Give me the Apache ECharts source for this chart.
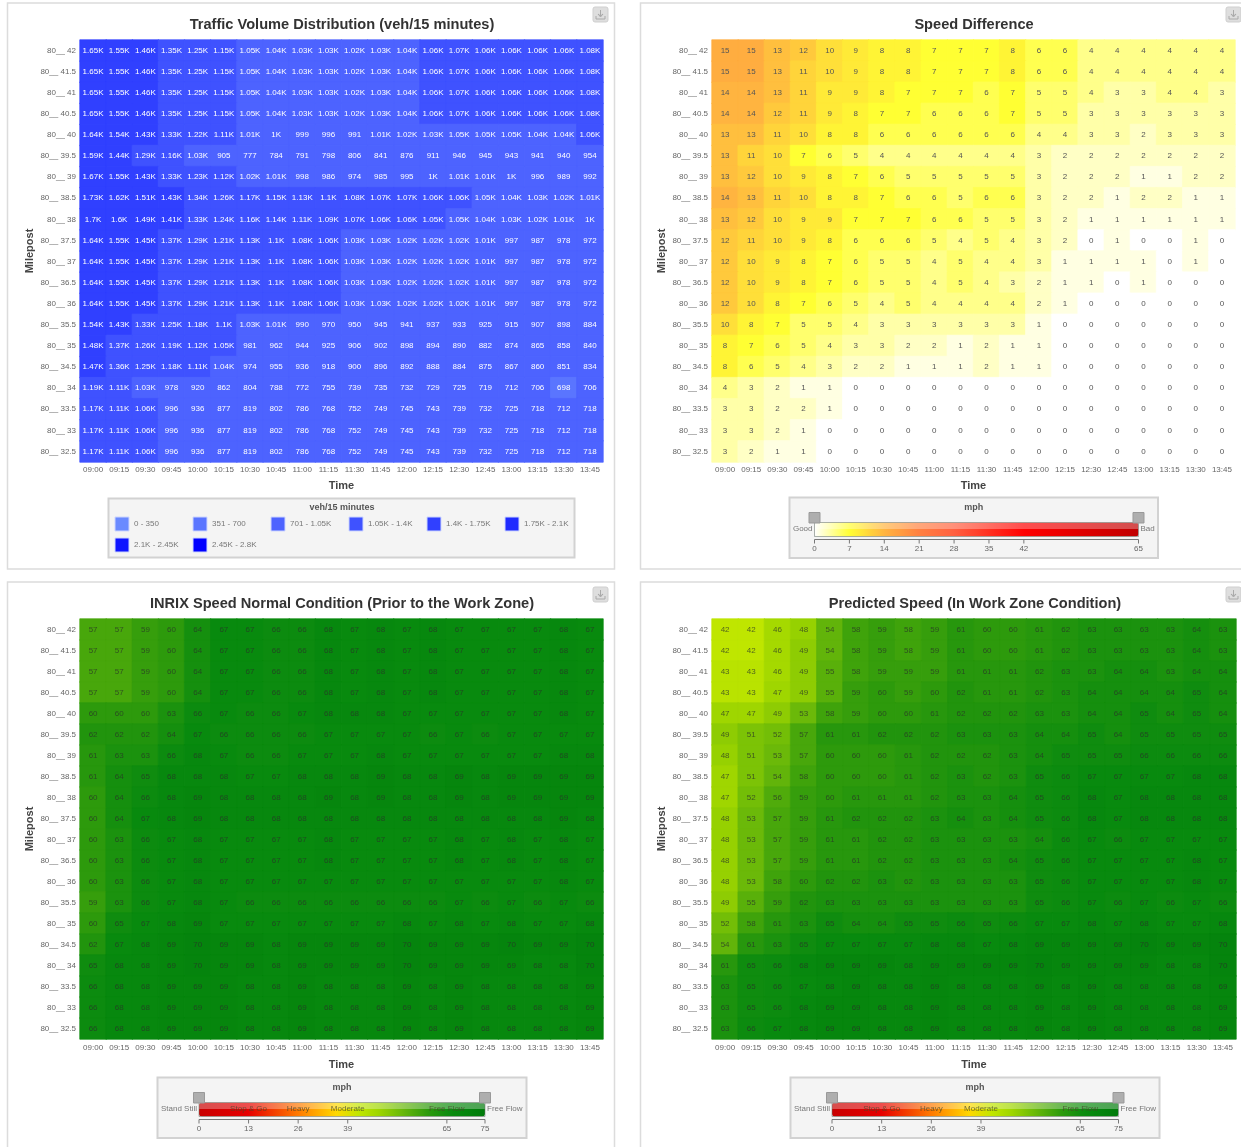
<!DOCTYPE html>
<html>
<head>
<meta charset="utf-8">
<style>html,body{margin:0;padding:0;background:#fff}#c{width:1241px;height:1147px}</style>
<script src="https://cdn.jsdelivr.net/npm/echarts@6/dist/echarts.min.js"></script>
</head>
<body>
<div id="c"></div>
<script>
var times = ['09:00','09:15','09:30','09:45','10:00','10:15','10:30','10:45','11:00','11:15','11:30','11:45','12:00','12:15','12:30','12:45','13:00','13:15','13:30','13:45'];
var mileposts = ['80__ 42','80__ 41.5','80__ 41','80__ 40.5','80__ 40','80__ 39.5','80__ 39','80__ 38.5','80__ 38','80__ 37.5','80__ 37','80__ 36.5','80__ 36','80__ 35.5','80__ 35','80__ 34.5','80__ 34','80__ 33.5','80__ 33','80__ 32.5'];

var volume = [
[1650,1550,1460,1350,1250,1150,1050,1040,1030,1030,1020,1030,1040,1060,1070,1060,1060,1060,1060,1080],
[1650,1550,1460,1350,1250,1150,1050,1040,1030,1030,1020,1030,1040,1060,1070,1060,1060,1060,1060,1080],
[1650,1550,1460,1350,1250,1150,1050,1040,1030,1030,1020,1030,1040,1060,1070,1060,1060,1060,1060,1080],
[1650,1550,1460,1350,1250,1150,1050,1040,1030,1030,1020,1030,1040,1060,1070,1060,1060,1060,1060,1080],
[1640,1540,1430,1330,1220,1110,1010,1000,999,996,991,1010,1020,1030,1050,1050,1050,1040,1040,1060],
[1590,1440,1290,1160,1030,905,777,784,791,798,806,841,876,911,946,945,943,941,940,954],
[1670,1550,1430,1330,1230,1120,1020,1010,998,986,974,985,995,1000,1010,1010,1000,996,989,992],
[1730,1620,1510,1430,1340,1260,1170,1150,1130,1100,1080,1070,1070,1060,1060,1050,1040,1030,1020,1010],
[1700,1600,1490,1410,1330,1240,1160,1140,1110,1090,1070,1060,1060,1052,1050,1040,1030,1020,1010,1000],
[1640,1550,1450,1370,1290,1210,1130,1100,1080,1060,1030,1030,1020,1020,1020,1010,997,987,978,972],
[1640,1550,1450,1370,1290,1210,1130,1100,1080,1060,1030,1030,1020,1020,1020,1010,997,987,978,972],
[1640,1550,1450,1370,1290,1210,1130,1100,1080,1060,1030,1030,1020,1020,1020,1010,997,987,978,972],
[1640,1550,1450,1370,1290,1210,1130,1100,1080,1060,1030,1030,1020,1020,1020,1010,997,987,978,972],
[1540,1430,1330,1250,1180,1100,1030,1010,990,970,950,945,941,937,933,925,915,907,898,884],
[1480,1370,1260,1190,1120,1052,981,962,944,925,906,902,898,894,890,882,874,865,858,840],
[1470,1360,1250,1180,1110,1040,974,955,936,918,900,896,892,888,884,875,867,860,851,834],
[1190,1110,1030,978,920,862,804,788,772,755,739,735,732,729,725,719,712,706,698,706],
[1170,1110,1060,996,936,877,819,802,786,768,752,749,745,743,739,732,725,718,712,718],
[1170,1110,1060,996,936,877,819,802,786,768,752,749,745,743,739,732,725,718,712,718],
[1170,1110,1060,996,936,877,819,802,786,768,752,749,745,743,739,732,725,718,712,718]
];
var speedDiff = [
[15,15,13,12,10,9,8,8,7,7,7,8,6,6,4,4,4,4,4,4],
[15,15,13,11,10,9,8,8,7,7,7,8,6,6,4,4,4,4,4,4],
[14,14,13,11,9,9,8,7,7,7,6,7,5,5,4,3,3,4,4,3],
[14,14,12,11,9,8,7,7,6,6,6,7,5,5,3,3,3,3,3,3],
[13,13,11,10,8,8,6,6,6,6,6,6,4,4,3,3,2,3,3,3],
[13,11,10,7,6,5,4,4,4,4,4,4,3,2,2,2,2,2,2,2],
[13,12,10,9,8,7,6,5,5,5,5,5,3,2,2,2,1,1,2,2],
[14,13,11,10,8,8,7,6,6,5,6,6,3,2,2,1,2,2,1,1],
[13,12,10,9,9,7,7,7,6,6,5,5,3,2,1,1,1,1,1,1],
[12,11,10,9,8,6,6,6,5,4,5,4,3,2,0,1,0,0,1,0],
[12,10,9,8,7,6,5,5,4,5,4,4,3,1,1,1,1,0,1,0],
[12,10,9,8,7,6,5,5,4,5,4,3,2,1,1,0,1,0,0,0],
[12,10,8,7,6,5,4,5,4,4,4,4,2,1,0,0,0,0,0,0],
[10,8,7,5,5,4,3,3,3,3,3,3,1,0,0,0,0,0,0,0],
[8,7,6,5,4,3,3,2,2,1,2,1,1,0,0,0,0,0,0,0],
[8,6,5,4,3,2,2,1,1,1,2,1,1,0,0,0,0,0,0,0],
[4,3,2,1,1,0,0,0,0,0,0,0,0,0,0,0,0,0,0,0],
[3,3,2,2,1,0,0,0,0,0,0,0,0,0,0,0,0,0,0,0],
[3,3,2,1,0,0,0,0,0,0,0,0,0,0,0,0,0,0,0,0],
[3,2,1,1,0,0,0,0,0,0,0,0,0,0,0,0,0,0,0,0]
];
var normalSpeed = [
[57,57,59,60,64,67,67,66,66,68,67,68,67,68,67,67,67,67,68,67],
[57,57,59,60,64,67,67,66,66,68,67,68,67,68,67,67,67,67,68,67],
[57,57,59,60,64,67,67,66,66,68,67,68,67,68,67,67,67,67,68,67],
[57,57,59,60,64,67,67,66,66,68,67,68,67,68,67,67,67,67,68,67],
[60,60,60,63,66,67,66,66,67,68,68,68,67,67,67,67,67,67,68,67],
[62,62,62,64,67,66,66,66,66,67,67,67,67,66,67,66,67,67,67,67],
[61,63,63,66,68,67,66,66,67,67,67,68,67,67,67,67,67,67,68,68],
[61,64,65,68,68,68,67,67,68,68,68,69,68,68,69,68,69,69,69,69],
[60,64,66,68,69,68,68,68,68,69,68,69,68,68,69,68,69,69,69,69],
[60,64,67,68,69,68,68,68,68,68,68,68,68,68,68,68,68,68,69,68],
[60,63,66,67,68,67,67,67,67,68,67,67,67,67,68,67,68,67,68,67],
[60,63,66,67,68,67,67,67,67,68,67,67,67,67,68,67,68,67,68,67],
[60,63,66,67,68,67,67,67,67,67,67,67,67,67,67,67,67,67,68,67],
[59,63,66,67,68,67,66,66,66,66,66,66,66,66,67,66,67,66,67,66],
[60,65,67,68,69,67,67,67,67,67,67,67,68,67,68,67,68,67,67,68],
[62,67,68,69,70,69,69,68,69,69,69,69,70,69,69,69,70,69,69,70],
[65,68,68,69,70,69,69,68,69,69,69,69,70,69,69,69,69,68,68,70],
[66,68,68,69,69,69,68,68,69,68,68,68,69,68,69,68,68,68,68,69],
[66,68,68,69,69,69,68,68,69,68,68,68,69,68,69,68,68,68,68,69],
[66,68,68,69,69,69,68,68,69,68,68,68,69,68,69,68,68,68,68,69]
];
var predictedSpeed = [
[42,42,46,48,54,58,59,58,59,61,60,60,61,62,63,63,63,63,64,63],
[42,42,46,49,54,58,59,58,59,61,60,60,61,62,63,63,63,63,64,63],
[43,43,46,49,55,58,59,59,59,61,61,61,62,63,63,64,64,63,64,64],
[43,43,47,49,55,59,60,59,60,62,61,61,62,63,64,64,64,64,65,64],
[47,47,49,53,58,59,60,60,61,62,62,62,63,63,64,64,65,64,65,64],
[49,51,52,57,61,61,62,62,62,63,63,63,64,64,65,64,65,65,65,65],
[48,51,53,57,60,60,60,61,62,62,62,63,64,65,65,65,66,66,66,66],
[47,51,54,58,60,60,60,61,62,63,62,63,65,66,67,67,67,67,68,68],
[47,52,56,59,60,61,61,61,62,63,63,64,65,66,68,67,68,68,68,68],
[48,53,57,59,61,62,62,62,63,64,63,64,65,66,68,67,68,68,68,68],
[48,53,57,59,61,61,62,62,63,63,63,63,64,66,67,66,67,67,67,67],
[48,53,57,59,61,61,62,62,63,63,63,64,65,66,67,67,67,67,68,67],
[48,53,58,60,62,62,63,62,63,63,63,63,65,66,67,67,67,67,68,67],
[49,55,59,62,63,63,63,63,63,63,63,63,65,66,67,66,67,66,67,66],
[52,58,61,63,65,64,64,65,65,66,65,66,67,67,68,67,68,67,67,68],
[54,61,63,65,67,67,67,67,68,68,67,68,69,69,69,69,70,69,69,70],
[61,65,66,68,69,69,69,68,69,69,69,69,70,69,69,69,69,68,68,70],
[63,65,66,67,68,69,68,68,69,68,68,68,69,68,69,68,68,68,68,69],
[63,65,66,68,69,69,68,68,69,68,68,68,69,68,69,68,68,68,68,69],
[63,66,67,68,69,69,68,68,69,68,68,68,69,68,69,68,68,68,68,69]
];

var volumeBreaks = [0,350,700,1050,1400,1750,2100,2450,2800];
var volumeLabels = ['0 - 350','351 - 700','701 - 1.05K','1.05K - 1.4K','1.4K - 1.75K','1.75K - 2.1K','2.1K - 2.45K','2.45K - 2.8K'];
var volumeColors = ['#6a8aff','#5a75ff','#4d63ff','#3f52ff','#3040ff','#1f2bff','#0f15ff','#0000ff'];
var diffTicks = [0,7,14,21,28,35,42,65];
var speedTicks = [0,13,26,39,65,75];
var speedZones = [['Stop & Go',13],['Heavy',26],['Moderate',39],['Free Flow',65]];
var diffStops = [[0,'#ffffff'],[7,'#ffff33'],[14,'#ffb440'],[21,'#ff8040'],[28,'#ff6040'],[35,'#ff3020'],[42,'#ff0000'],[65,'#c00000']];
var speedStops = [[0,'#c80000'],[13,'#e60000'],[26,'#ff7a00'],[36,'#ffd800'],[42,'#bfe600'],[47,'#9fd600'],[54,'#62b40a'],[60,'#2d9a0c'],[65,'#0f8c0f'],[67,'#088a0e'],[75,'#007a0a']];

function hex(c){return [1,3,5].map(function(i){return parseInt(c.substr(i,2),16);});}
function ramp(stops){
  var out=[], max=stops[stops.length-1][0];
  for(var v=0;v<=max;v++){
    for(var i=0;i<stops.length-1&&v>stops[i+1][0];i++);
    var a=stops[i],b=stops[i+1],t=(v-a[0])/(b[0]-a[0]),p=hex(a[1]),q=hex(b[1]);
    out.push('rgb('+[0,1,2].map(function(k){return Math.round(p[k]+(q[k]-p[k])*t);}).join(',')+')');
  }
  return out;
}
var diffRamp=ramp(diffStops), speedRamp=ramp(speedStops);
function volumeColor(v){for(var i=0;i<volumeColors.length;i++){if(v<=volumeBreaks[i+1])return volumeColors[i];}return volumeColors[7];}
// each cell carries a same-coloured hairline so sub-pixel cell edges leave no seams
function cells(m,colorOf){var o=[];m.forEach(function(r,y){r.forEach(function(v,x){var c=colorOf(v);o.push({value:[x,y,v],itemStyle:{color:c,borderColor:c,borderWidth:0.7}});});});return o;}
function fmtVol(v){return v<1000?String(v):(Math.round(v/10)/100)+'K';}

var FONT='"Liberation Sans", Arial, sans-serif';
var panels=[
 {title:'Traffic Volume Distribution (veh/15 minutes)',cx:342,ty:24.5,l:80,t:40,w:523,h:422,gap:18,bx:7.5,by:3,bw:607,bh:566,icon:[593,7],data:volume,col:volumeColor,lab:'#ffffff',fmt:function(p){return fmtVol(p.value[2]);}},
 {title:'Speed Difference',cx:974,ty:24.5,l:712,t:40,w:523,h:422,gap:18,bx:640.5,by:3,bw:640,bh:566,icon:[1226,7],data:speedDiff,col:function(v){return diffRamp[v];},lab:'#555555'},
 {title:'INRIX Speed Normal Condition (Prior to the Work Zone)',cx:342,ty:603.5,l:80,t:619,w:523,h:420,gap:20,bx:7.5,by:582,bw:607,bh:600,icon:[593,587],data:normalSpeed,col:function(v){return speedRamp[v];},lab:'rgba(40,50,40,0.72)'},
 {title:'Predicted Speed (In Work Zone Condition)',cx:975,ty:603.5,l:712,t:619,w:524,h:420,gap:20,bx:640.5,by:582,bw:640,bh:600,icon:[1226,587],data:predictedSpeed,col:function(v){return speedRamp[v];},lab:'rgba(40,50,40,0.72)'}
];

var graphic=[];
function addText(x,y,s,o){graphic.push({type:'text',x:x,y:y,z:20,silent:true,style:Object.assign({text:s,font:'8px '+FONT,fill:'#666',textAlign:'center',textVerticalAlign:'middle'},o||{})});}
function addBox(x,y,w,h){graphic.push({type:'rect',shape:{x:x,y:y,width:w,height:h},z:1,silent:true,style:{fill:'#f4f4f4',stroke:'#d2d2d2',lineWidth:2}});}
panels.forEach(function(p){
  graphic.push({type:'rect',shape:{x:p.bx,y:p.by,width:p.bw,height:p.bh},z:0,silent:true,style:{fill:'none',stroke:'#dcdcdc',lineWidth:1.5}});
  var ix=p.icon[0],iy=p.icon[1];
  graphic.push({type:'rect',shape:{x:ix,y:iy,width:15,height:15,r:2},z:1,silent:true,style:{fill:'#dedede',stroke:'#cfcfcf',lineWidth:1}});
  graphic.push({type:'polyline',shape:{points:[[ix+3,iy+9],[ix+3,iy+12],[ix+12,iy+12],[ix+12,iy+9]]},z:2,silent:true,style:{fill:'none',stroke:'#aaa',lineWidth:1}});
  graphic.push({type:'polyline',shape:{points:[[ix+7.5,iy+3],[ix+7.5,iy+9],[ix+5,iy+7],[ix+7.5,iy+10],[ix+10,iy+7],[ix+7.5,iy+9]]},z:2,silent:true,style:{fill:'none',stroke:'#aaa',lineWidth:1}});
});

// volume legend (piece swatches built from the break list)
addBox(108.5,498.5,466,59);
addText(342,508,'veh/15 minutes',{font:'bold 9px '+FONT,fill:'#555'});
volumeColors.forEach(function(c,i){
  var col=i%6,row=i<6?0:1,x=115+col*78,y=517+row*21;
  graphic.push({type:'rect',shape:{x:x,y:y,width:14,height:14},z:10,silent:true,style:{fill:c,stroke:'#cdd6ff',lineWidth:1}});
  addText(x+19,y+7,volumeLabels[i],{textAlign:'left',fill:'#777'});
});

// gradient legend furniture around each continuous visualMap bar
function gradientFrame(o){
  var len=o.x1-o.x0, max=o.ticks[o.ticks.length-1];
  function sx(v){return o.x0+len*v/max;}
  addBox(o.bx,o.by,o.bw,60.5);
  addText(o.bx+o.bw/2,o.by+10.5,'mph',{font:'bold 9px '+FONT,fill:'#555'});
  var barTop=o.by+25;
  graphic.push({type:'rect',shape:{x:o.x0,y:barTop,width:len,height:6.5},z:10,silent:true,style:{fill:'rgba(255,255,255,0.3)'}});
  graphic.push({type:'rect',shape:{x:o.x0,y:barTop,width:len,height:14},z:10,silent:true,style:{fill:'none',stroke:'rgba(110,120,110,0.55)',lineWidth:1}});
  [o.x0,o.x1].forEach(function(x){
    graphic.push({type:'rect',shape:{x:x-5.5,y:barTop-10,width:11,height:10.5},z:11,silent:true,style:{fill:'#aeaeae',stroke:'#999',lineWidth:1}});
  });
  var ay=barTop+17;
  graphic.push({type:'line',shape:{x1:o.x0,y1:ay,x2:o.x1,y2:ay},z:11,silent:true,style:{stroke:'#777',lineWidth:1}});
  o.ticks.forEach(function(v){
    graphic.push({type:'line',shape:{x1:sx(v),y1:ay,x2:sx(v),y2:ay+4},z:11,silent:true,style:{stroke:'#777',lineWidth:1}});
    addText(sx(v),ay+9,String(v),{fill:'#666'});
  });
  addText(o.x0-2,barTop+6.5,o.low,{textAlign:'right',fill:'#777'});
  addText(o.x1+2,barTop+6.5,o.high,{textAlign:'left',fill:'#777'});
  (o.zones||[]).forEach(function(z){addText(sx(z[1]),barTop+6.5,z[0],{fill:'rgba(70,70,40,0.75)'});});
}
gradientFrame({x0:814.5,x1:1138.5,bx:789.5,by:497.5,bw:368.5,ticks:diffTicks,low:'Good',high:'Bad'});
gradientFrame({x0:199,x1:485,bx:157.5,by:1077.5,bw:369,ticks:speedTicks,low:'Stand Still',high:'Free Flow',zones:speedZones});
gradientFrame({x0:832,x1:1118.5,bx:790.5,by:1077.5,bw:369,ticks:speedTicks,low:'Stand Still',high:'Free Flow',zones:speedZones});

var pieces=volumeColors.map(function(c,i){return {gt:volumeBreaks[i],lte:volumeBreaks[i+1],color:c};});
pieces[0]={gte:0,lte:350,color:volumeColors[0]};
function contMap(idx,max,stops,x,y,len){
  return {type:'continuous',seriesIndex:idx,min:0,max:max,orient:'horizontal',left:x,top:y,itemWidth:14,itemHeight:len,padding:0,calculable:false,realtime:false,showLabel:false,text:null,hoverLink:false,inRange:{color:ramp(stops)},z:5};
}

var option={
  animation:false,
  backgroundColor:'#fff',
  textStyle:{fontFamily:FONT},
  title:panels.map(function(p){return {text:p.title,left:p.cx,top:p.ty-8,textAlign:'center',padding:0,textStyle:{fontFamily:FONT,fontSize:14.6,fontWeight:'bold',color:'#333',lineHeight:16}};}),
  grid:panels.map(function(p){return {left:p.l,top:p.t,width:p.w,height:p.h,containLabel:false,show:false};}),
  xAxis:panels.map(function(p,i){return {gridIndex:i,type:'category',data:times,name:'Time',nameLocation:'middle',nameGap:p.gap,nameTextStyle:{fontFamily:FONT,fontSize:11,fontWeight:'bold',color:'#444'},axisLine:{show:false},axisTick:{show:false},splitLine:{show:false},axisLabel:{interval:0,fontSize:8,color:'#666',margin:i<2?4:5,fontFamily:FONT}};}),
  yAxis:panels.map(function(p,i){return {gridIndex:i,type:'category',inverse:true,data:mileposts,name:'Milepost',nameLocation:'middle',nameGap:45,nameRotate:90,nameTextStyle:{fontFamily:FONT,fontSize:11,fontWeight:'bold',color:'#444'},axisLine:{show:false},axisTick:{show:false},splitLine:{show:false},axisLabel:{interval:0,fontSize:8,color:'#666',margin:4,fontFamily:FONT}};}),
  visualMap:[
    {type:'piecewise',show:false,seriesIndex:0,pieces:pieces},
    contMap(1,65,diffStops,814.5,522.5,324),
    contMap(2,75,speedStops,199,1102.5,286),
    contMap(3,75,speedStops,832,1102.5,286.5)
  ],
  series:panels.map(function(p,i){return {type:'heatmap',xAxisIndex:i,yAxisIndex:i,data:cells(p.data,p.col),progressive:0,silent:true,label:{show:true,fontSize:8,fontFamily:FONT,color:p.lab,formatter:p.fmt||function(q){return String(q.value[2]);}},emphasis:{disabled:true}};}),
  graphic:{elements:graphic}
};
var chart=echarts.init(document.getElementById('c'),null,{renderer:'canvas'});
chart.setOption(option);
</script>
</body>
</html>
